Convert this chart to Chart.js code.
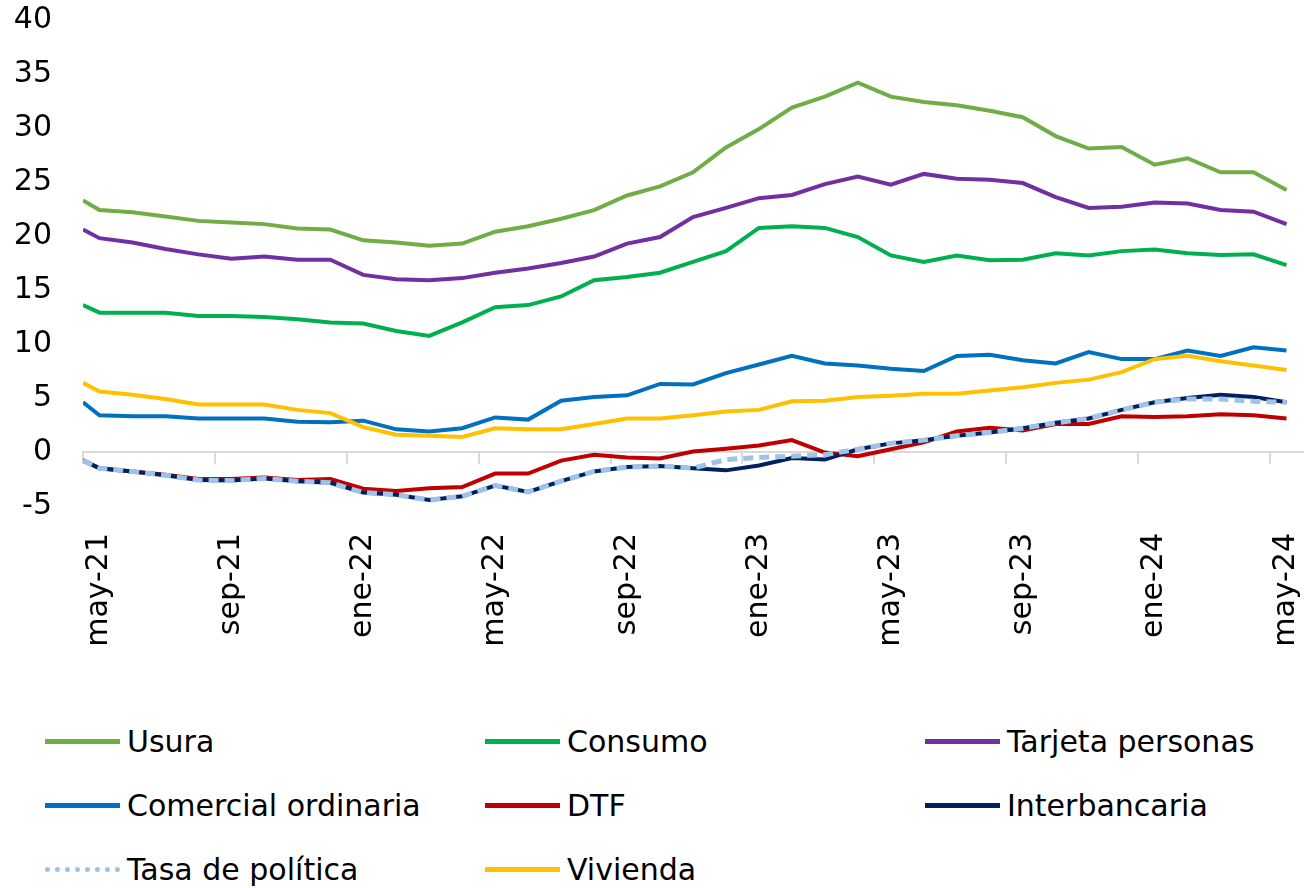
<!DOCTYPE html>
<html>
<head>
<meta charset="utf-8">
<script src="https://cdn.jsdelivr.net/npm/chart.js@4.4.1/dist/chart.umd.min.js"></script>
<style>
  body { margin: 0; background: #fff; font-family: "DejaVu Sans", sans-serif; }
  #wrap { position: relative; width: 1310px; height: 888px; }
  #box { position: absolute; left: 0; top: 0; width: 1310px; height: 680px; }
  #legend { position: absolute; left: 45px; top: 709px; display: grid;
            grid-template-columns: 440px 440px 380px; grid-auto-rows: 64px; }
  .item { display: flex; align-items: center; font-size: 30px; color: #000; }
  .swatch { width: 75px; height: 0; border-top: 5px solid; margin-right: 7px; }
</style>
</head>
<body>
<div id="wrap">
  <div id="box"><canvas id="rates"></canvas></div>
  <div id="legend"></div>
</div>
<script>
var months = ["may-21", "jun-21", "jul-21", "ago-21", "sep-21", "oct-21", "nov-21", "dic-21",
    "ene-22", "feb-22", "mar-22", "abr-22", "may-22", "jun-22", "jul-22", "ago-22", "sep-22",
    "oct-22", "nov-22", "dic-22", "ene-23", "feb-23", "mar-23", "abr-23", "may-23", "jun-23",
    "jul-23", "ago-23", "sep-23", "oct-23", "nov-23", "dic-23", "ene-24", "feb-24", "mar-24",
    "abr-24", "may-24"];

// first value of each series is the opening observation, drawn at the left edge of the axis
var usura = [23.3, 22.4, 22.2, 21.8, 21.4, 21.25, 21.1, 20.7, 20.6, 19.6, 19.4, 19.1, 19.3, 20.4,
    20.9, 21.6, 22.4, 23.75, 24.6, 25.9, 28.2, 29.9, 31.9, 32.9, 34.2, 32.9, 32.4, 32.1, 31.6,
    31.0, 29.25, 28.1, 28.25, 26.6, 27.2, 25.9, 25.9, 24.25];
var consumo = [13.6, 12.9, 12.9, 12.9, 12.6, 12.6, 12.5, 12.3, 12.0, 11.9, 11.2, 10.75, 12.0, 13.4,
    13.6, 14.4, 15.9, 16.2, 16.6, 17.6, 18.6, 20.75, 20.9, 20.75, 19.9, 18.2, 17.6, 18.2, 17.75,
    17.8, 18.4, 18.2, 18.6, 18.75, 18.4, 18.25, 18.3, 17.3];
var tarjeta = [20.6, 19.8, 19.4, 18.8, 18.3, 17.9, 18.1, 17.8, 17.8, 16.4, 16.0, 15.9, 16.1, 16.6,
    17.0, 17.5, 18.1, 19.3, 19.9, 21.75, 22.6, 23.5, 23.8, 24.8, 25.5, 24.75, 25.75, 25.3, 25.2,
    24.9, 23.6, 22.6, 22.7, 23.1, 23.0, 22.4, 22.25, 21.1];
var comercial = [4.6, 3.4, 3.3, 3.3, 3.1, 3.1, 3.1, 2.8, 2.75, 2.9, 2.1, 1.9, 2.2, 3.2, 3.0, 4.75,
    5.1, 5.25, 6.3, 6.25, 7.3, 8.1, 8.9, 8.2, 8.0, 7.7, 7.5, 8.9, 9.0, 8.5, 8.2, 9.25, 8.6, 8.6,
    9.4, 8.9, 9.7, 9.4];
var dtf = [-0.75, -1.5, -1.8, -2.1, -2.5, -2.5, -2.35, -2.6, -2.5, -3.4, -3.6, -3.35, -3.25, -2.0,
    -2.0, -0.8, -0.25, -0.5, -0.6, 0.05, 0.3, 0.6, 1.1, -0.05, -0.4, 0.25, 0.9, 1.9, 2.25, 2.0,
    2.6, 2.6, 3.3, 3.25, 3.3, 3.5, 3.4, 3.1];
var interbancaria = [-0.8, -1.5, -1.8, -2.15, -2.6, -2.65, -2.45, -2.7, -2.85, -3.75, -3.95, -4.45,
    -4.1, -3.1, -3.7, -2.7, -1.8, -1.4, -1.3, -1.5, -1.7, -1.25, -0.55, -0.7, 0.25, 0.8, 1.1, 1.5,
    1.8, 2.2, 2.7, 3.1, 3.9, 4.6, 5.0, 5.3, 5.1, 4.6];
var politica = [-0.8, -1.5, -1.8, -2.15, -2.6, -2.65, -2.45, -2.7, -2.85, -3.75, -3.95, -4.45,
    -4.1, -3.1, -3.7, -2.7, -1.8, -1.4, -1.3, -1.5, -0.7, -0.5, -0.4, -0.25, 0.25, 0.8, 1.1, 1.5,
    1.8, 2.2, 2.7, 3.1, 3.9, 4.6, 4.9, 4.9, 4.7, 4.6];
var vivienda = [6.4, 5.6, 5.3, 4.9, 4.4, 4.4, 4.4, 3.9, 3.6, 2.3, 1.6, 1.5, 1.4, 2.2, 2.1, 2.1, 2.6,
    3.1, 3.1, 3.4, 3.75, 3.9, 4.7, 4.75, 5.1, 5.2, 5.4, 5.4, 5.7, 6.0, 6.4, 6.7, 7.4, 8.6, 8.9,
    8.4, 8.0, 7.6];

var yTicks = [-5, 0, 5, 10, 15, 20, 25, 30, 35, 40];

var names = ["Usura", "Consumo", "Tarjeta personas", "Comercial ordinaria", "DTF",
    "Interbancaria", "Tasa de política", "Vivienda"];
var seriesList = [usura, consumo, tarjeta, comercial, dtf, interbancaria, politica, vivienda];
var colors = ["#70ad47", "#00b050", "#7030a0", "#0070c0", "#c00000", "#002060", "#9dc3e6", "#ffc000"];

// x position of each observation: opening point at the axis edge, then one per month
var xPos = [-0.5].concat(months.map(function (m, i) { return i; }));

var font = { family: "'DejaVu Sans', sans-serif", size: 30 };

var datasets = seriesList.map(function (values, i) {
    var dashed = names[i] === "Tasa de política";
    return {
        label: names[i],
        data: values.map(function (v, k) { return { x: xPos[k], y: v }; }),
        borderColor: colors[i],
        backgroundColor: colors[i],
        borderWidth: dashed ? 5 : 4,
        borderDash: dashed ? [10, 6] : [],
        pointRadius: 0,
        tension: 0,
        order: names.length - i
    };
});

// drop the automatic label overhang so the layout padding alone places the plot
function noPadding(scale) {
    scale.paddingTop = 0;
    scale.paddingBottom = 0;
    scale.paddingLeft = 0;
    scale.paddingRight = 0;
}

var chart = new Chart(document.getElementById("rates"), {
    type: "line",
    data: { datasets: datasets },
    options: {
        responsive: true,
        maintainAspectRatio: false,
        animation: false,
        layout: { padding: { left: 0, right: 7, top: 20, bottom: 24 } },
        plugins: { legend: { display: false }, tooltip: { enabled: false } },
        scales: {
            x: {
                type: "linear",
                min: -0.5,
                max: months.length - 0.5,
                afterBuildTicks: function (scale) {
                    scale.ticks = months.map(function (m, i) { return { value: i }; })
                        .filter(function (t) { return t.value % 4 === 0; });
                },
                afterFit: function (scale) {
                    noPadding(scale);
                    scale.height = 150;
                },
                ticks: {
                    autoSkip: false,
                    minRotation: 90,
                    maxRotation: 90,
                    padding: 27,
                    color: "#000",
                    font: font,
                    callback: function (v) { return months[v]; }
                },
                grid: { display: false, drawTicks: false },
                border: { display: false }
            },
            x2: {
                type: "linear",
                position: { y: 0 },
                min: -0.5,
                max: months.length - 0.5,
                afterBuildTicks: function (scale) {
                    scale.ticks = months.map(function (m, i) { return { value: i - 0.5 }; })
                        .filter(function (t, i) { return i % 4 === 0; });
                },
                afterFit: noPadding,
                ticks: { display: false },
                grid: { drawOnChartArea: false, drawTicks: true, tickLength: 11, color: "#d9d9d9", lineWidth: 2 },
                border: { color: "#d9d9d9", width: 2 }
            },
            y: {
                min: yTicks[0],
                max: yTicks[yTicks.length - 1],
                afterBuildTicks: function (scale) {
                    scale.ticks = yTicks.map(function (v) { return { value: v }; });
                },
                afterFit: function (scale) {
                    noPadding(scale);
                    scale.width = 83;
                },
                ticks: { padding: 31, color: "#000", font: font },
                grid: { display: false, drawTicks: false },
                border: { display: false }
            }
        }
    }
});

var legend = document.getElementById("legend");
chart.data.datasets.forEach(function (ds) {
    var item = document.createElement("div");
    item.className = "item";
    var sw = document.createElement("span");
    sw.className = "swatch";
    sw.style.borderTopColor = ds.borderColor;
    if (ds.borderDash.length) sw.style.borderTopStyle = "dotted";
    var txt = document.createElement("span");
    txt.textContent = ds.label;
    item.appendChild(sw);
    item.appendChild(txt);
    legend.appendChild(item);
});
</script>
</body>
</html>
